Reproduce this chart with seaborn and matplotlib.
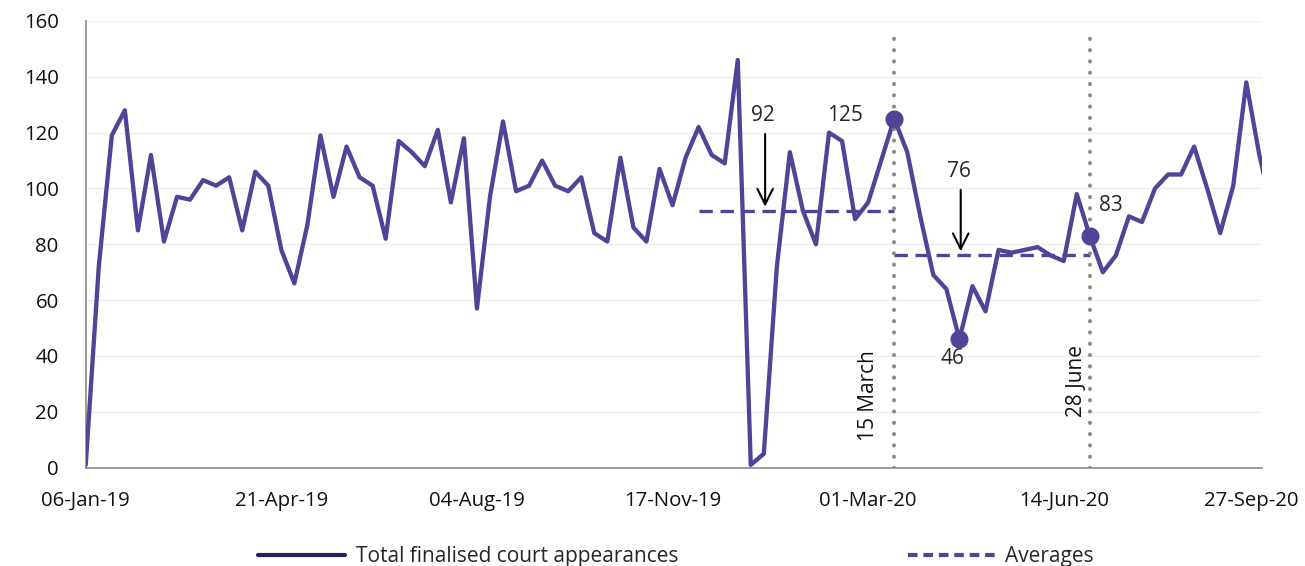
import numpy as np
import pandas as pd
import matplotlib
matplotlib.use('Agg')
import matplotlib.pyplot as plt
import matplotlib.transforms as mtrans
from matplotlib.lines import Line2D
import seaborn as sns

# weekly totals, week 0 = 06-Jan-19
appearances = [1, 72, 119, 128, 85, 112, 81, 97, 96, 103,
               101, 104, 85, 106, 101, 78, 66, 87, 119, 97,
               115, 104, 101, 82, 117, 113, 108, 121, 95, 118,
               57, 97, 124, 99, 101, 110, 101, 99, 104, 84,
               81, 111, 86, 81, 107, 94, 111, 122, 112, 109,
               146, 1, 5, 72, 113, 92, 80, 120, 117, 89,
               95, 110, 125, 113, 90, 69, 64, 46, 65, 56,
               78, 77, 78, 79, 76, 74, 98, 83, 70, 76,
               90, 88, 100, 105, 105, 115, 100, 84, 101, 138,
               112, 92]
tick_weeks = [0, 15, 30, 45, 60, 75, 90]
tick_labels = ['06-Jan-19', '21-Apr-19', '04-Aug-19', '17-Nov-19',
               '01-Mar-20', '14-Jun-20', '27-Sep-20']

# averages before / after 15 March, and the two markers
avg_before = 92
avg_after = 76
avg_spans = [(47, 62), (62, 77)]
event_weeks = [62, 77]
event_names = ['15 March', '28 June']
point_weeks = [62, 67, 77]
point_labels = ['125', '46', '83']

purple = '#4F4596'
navy = '#25215E'
grey = '#8C8C8C'

sns.set_style('white')
plt.rcParams['font.family'] = ['Open Sans', 'DejaVu Sans']

df = pd.DataFrame({'week': np.arange(len(appearances)), 'count': appearances})

fig = plt.figure(figsize=(13.05, 5.66), dpi=100)
ax = fig.add_axes([0.0657, 0.1737, 0.9013, 0.7893])

ax.yaxis.grid(True, color='#EEEEEE', lw=1)
ax.set_axisbelow(True)

sns.lineplot(data=df, x='week', y='count', color=purple, lw=3.1, ax=ax, zorder=3)

# dotted event lines
for w, name, dx, base in zip(event_weeks, event_names, [-2.0, -1.0], [9.5, 18]):
    ax.plot([w, w], [0, 157], color=grey, lw=3, linestyle=(0, (0.01, 2.7)),
            dash_capstyle='round', zorder=4)
    ax.text(w + dx, base, name, rotation=90, ha='center', va='bottom', fontsize=15,
            color='#111111')

# average dashes
for (a, b), v in zip(avg_spans, [avg_before, avg_after]):
    ax.plot([a, b], [v, v], color=purple, lw=2.4, linestyle=(0, (4, 2.3)), zorder=2)

# marked points
ax.plot(point_weeks, [appearances[w] for w in point_weeks], 'o', color=purple,
        ms=12, zorder=5)
ax.text(58.2, 126, point_labels[0], ha='center', va='center', fontsize=15)
ax.text(66.5, 39, point_labels[1], ha='center', va='center', fontsize=15)
ax.text(78.6, 94, point_labels[2], ha='center', va='center', fontsize=15)

# arrows to averages
ax.annotate('', xy=(52.1, avg_before + 0.5), xytext=(52.1, 120.5),
            arrowprops=dict(arrowstyle='->', color='black', lw=1.5, mutation_scale=28))
ax.text(51.9, 126, str(avg_before), ha='center', va='center', fontsize=15)
ax.annotate('', xy=(67.1, avg_after + 0.5), xytext=(67.1, 100.5),
            arrowprops=dict(arrowstyle='->', color='black', lw=1.5, mutation_scale=28))
ax.text(67.0, 106, str(avg_after), ha='center', va='center', fontsize=15)

ax.set_xlim(0, 90.2)
ax.set_ylim(0, 160)
ax.set_yticks(range(0, 161, 20))
ax.set_xticks(tick_weeks)
ax.set_xticklabels(tick_labels)
ax.set_xlabel('')
ax.set_ylabel('')
ax.tick_params(axis='both', labelsize=14.7, colors=grey, labelcolor='#111111',
               length=7.5, width=1.2, direction='out')
ax.tick_params(axis='x', pad=9)
ax.tick_params(axis='y', pad=12)
ax.spines['top'].set_visible(False)
ax.spines['right'].set_visible(False)
for s in ['left', 'bottom']:
    ax.spines[s].set_color(grey)
    ax.spines[s].set_linewidth(1.2)

# last date label sits a little left so it stays inside the figure
last = ax.get_xticklabels()[-1]
last.set_transform(last.get_transform() + mtrans.ScaledTranslation(-6 / 72, 0, fig.dpi_scale_trans))

handles = [Line2D([], [], color=navy, lw=3),
           Line2D([], [], color=purple, lw=3, linestyle=(0, (2.3, 1.4)))]
fig.legend(handles, ['Total finalised court appearances', 'Averages'],
           loc='lower center', bbox_to_anchor=(0.518, -0.035), ncol=2, frameon=False,
           fontsize=15, handlelength=4.2, handletextpad=0.5, columnspacing=11)

fig.savefig('out.png', dpi=100)
